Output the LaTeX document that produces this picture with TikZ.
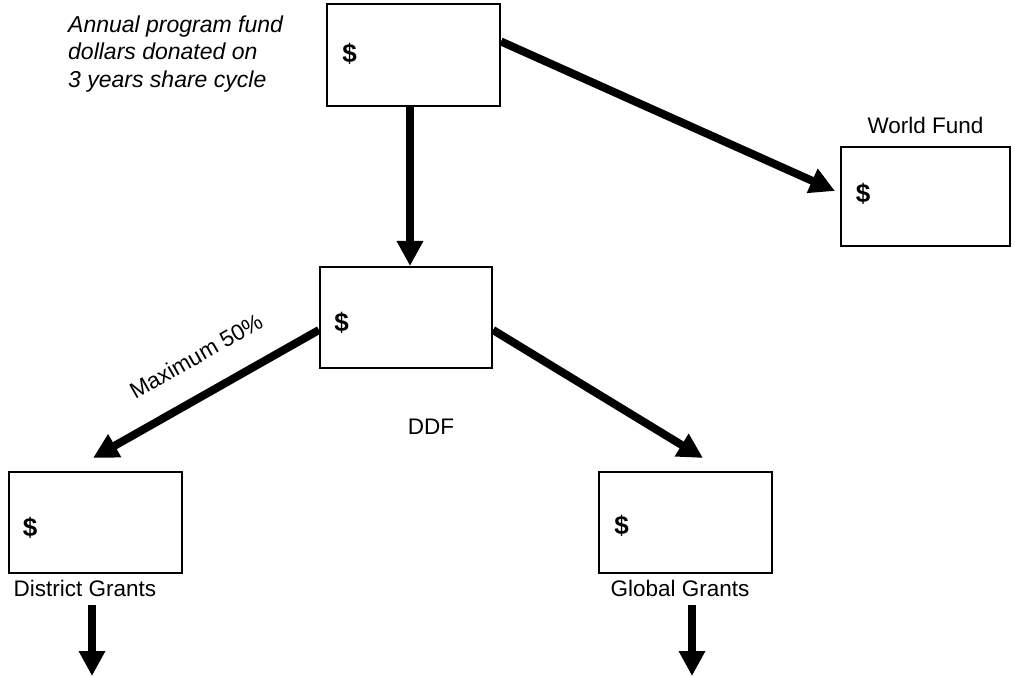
\documentclass[tikz,border=0pt]{standalone}
\usepackage{fontspec}
\setmainfont{Liberation Sans}
\usetikzlibrary{arrows.meta,calc}
\begin{document}
\begin{tikzpicture}[x=1pt,y=-1pt,
  box/.style={draw,line width=2pt,minimum width=173pt,minimum height=101pt,inner sep=0pt},
  dollar/.style={font=\fontsize{26}{26}\selectfont\bfseries,inner sep=0pt},
  lbl/.style={font=\fontsize{22.5}{22.5}\selectfont,inner sep=0pt},
  note/.style={font=\fontsize{23}{27.5}\selectfont\itshape,inner sep=0pt,align=left},
  flow/.style={line width=8pt,-{Triangle[length=25pt,width=25pt]}}]
\useasboundingbox (0,0) rectangle (1015,676);

% boxes
\node[box,minimum height=102pt] (top) at (413.5,55.5) {};
\node[box,minimum width=169pt,minimum height=99pt] (world) at (925.5,196.5) {};
\node[box,minimum width=172pt] (ddf) at (406,317.5) {};
\node[box] (district) at (95.5,522.5) {};
\node[box] (global) at (685.5,522.5) {};

% dollar signs
\node[dollar] (d1) at (349.5,53.5) {\$};
\node[dollar] (d2) at (863,194) {\$};
\node[dollar] (d3) at (341.5,322.5) {\$};
\node[dollar] (d4) at (30,528) {\$};
\node[dollar] (d5) at (621.5,526) {\$};

% labels
\node[note,anchor=west] (note) at (68,54) {Annual program fund\\dollars donated on\\3 years share cycle};
\node[lbl] (wf) at (925.5,125) {World Fund};
\node[lbl] (ddflbl) at (431,427) {DDF};
\node[lbl] (dg) at (85,588) {District Grants};
\node[lbl] (gg) at (680,588) {Global Grants};
\node[lbl,rotate=29.6] (max) at (196,356) {Maximum 50\%};

% arrow coordinates
\coordinate (t1) at (410,266);
\coordinate (t2) at (835,191);
\coordinate (t3) at (93,458);
\coordinate (t4) at (703,458);
\coordinate (s5) at (92,605);
\coordinate (t5) at (92,676);
\coordinate (s6) at (692,605);
\coordinate (t6) at (692,676);

% connectors
\draw[flow] (t1 |- top.south) -- (t1);
\draw[flow] ($(top.north east)+(0,38)$) -- (t2);
\draw[flow] ($(ddf.north west)+(0,64)$) -- (t3);
\draw[flow] ($(ddf.north east)+(0,64)$) -- (t4);
\draw[flow] (s5) -- (t5);
\draw[flow] (s6) -- (t6);
\end{tikzpicture}
\end{document}
